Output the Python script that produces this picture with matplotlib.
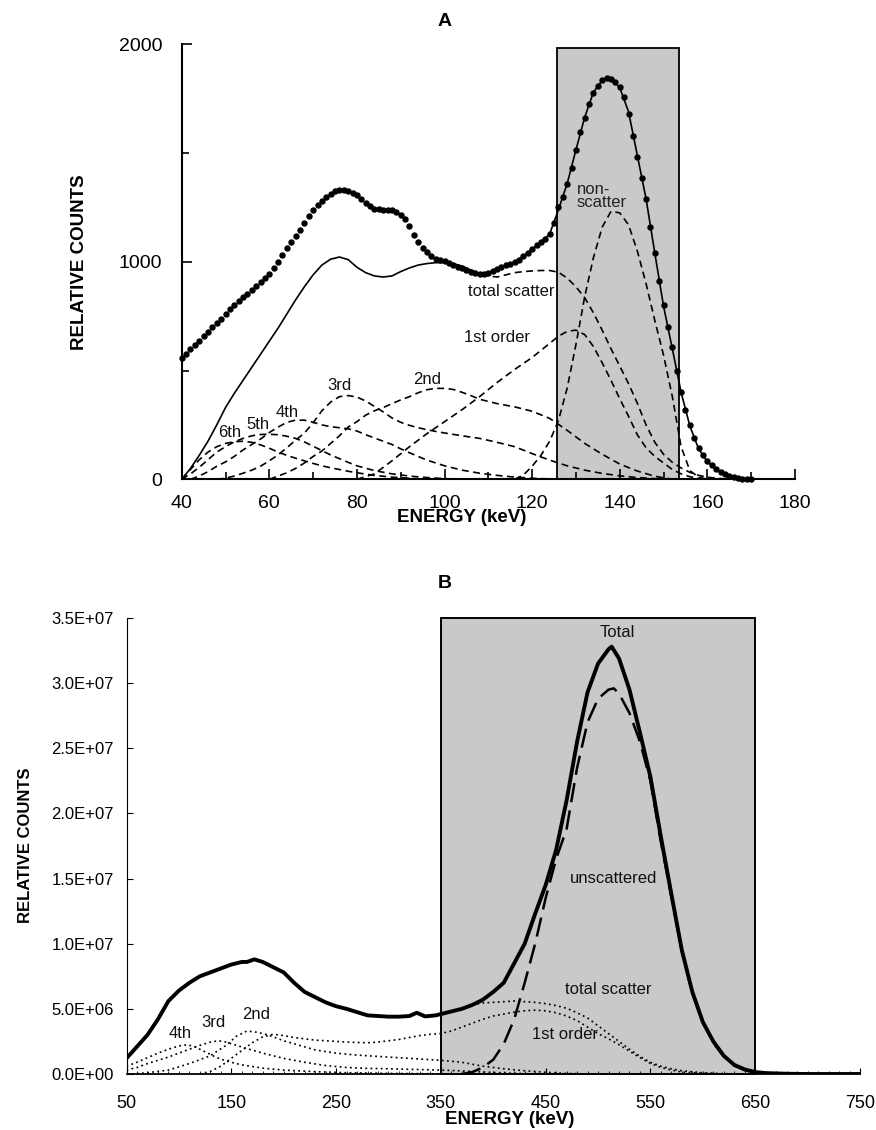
import matplotlib
matplotlib.use("Agg")
import matplotlib.pyplot as plt
from matplotlib.patches import Rectangle
from matplotlib.ticker import MultipleLocator, FuncFormatter

plt.rcParams["font.family"] = ["Liberation Sans", "DejaVu Sans"]
plt.rcParams["lines.scale_dashes"] = False

W, H = 876, 1130

# ---------------- panel A data (energy keV, relative counts) ----------------
a_meas_energy = list(range(40, 171))
a_meas_counts = [
    558, 578, 598, 618, 638, 658, 678, 698, 718, 738,
    760, 781, 800, 818, 836, 853, 870, 888, 906, 925,
    945, 970, 1000, 1030, 1062, 1093, 1120, 1146, 1178, 1210,
    1238, 1260, 1280, 1298, 1313, 1325, 1330, 1330, 1325, 1316,
    1305, 1290, 1272, 1255, 1245, 1241, 1240, 1240, 1238, 1230,
    1215, 1195, 1165, 1125, 1090, 1065, 1045, 1025, 1013, 1007,
    1002, 995, 987, 978, 970, 962, 955, 949, 946, 946,
    950, 958, 966, 975, 983, 992, 1000, 1010, 1025, 1042,
    1058, 1075, 1090, 1105, 1128, 1180, 1250, 1300, 1360, 1430,
    1515, 1595, 1660, 1725, 1775, 1810, 1835, 1844, 1842, 1828,
    1805, 1760, 1680, 1580, 1480, 1385, 1290, 1160, 1040, 910,
    800, 700, 610, 500, 400, 320, 250, 190, 145, 110,
    85, 65, 48, 35, 25, 17, 10, 5, 2, 0,
    0,
]

a_fit_energy = [40, 42, 44, 46, 48, 50, 52, 54, 56, 58, 60, 62, 64, 66, 68, 70,
                72, 74, 76, 78, 80, 82, 84, 86, 88, 90, 92, 94, 96, 98, 100,
                102, 104, 106, 108, 110, 112, 114, 116, 118, 120, 122, 124,
                126, 128, 130, 132, 134, 136, 138, 140, 142, 144, 146, 148,
                150, 152, 154, 156, 158, 160, 162, 164, 166, 168, 170]
a_fit_counts = [0, 50, 110, 175, 250, 330, 395, 455, 515, 575, 635, 695, 760,
                825, 885, 940, 985, 1012, 1022, 1010, 975, 950, 935, 930, 935,
                955, 972, 985, 992, 996, 996, 992, 980, 962, 945, 950, 966,
                983, 1000, 1025, 1058, 1090, 1128, 1240, 1360, 1515, 1665,
                1780, 1835, 1845, 1800, 1690, 1490, 1290, 1040, 795, 600, 400,
                245, 140, 80, 45, 25, 12, 5, 0]

a_scat_energy = [106, 108, 110, 112, 114, 116, 118, 120, 122, 124, 126, 128,
                 130, 132, 134, 136, 138, 140, 142, 144, 146, 148, 150, 152,
                 154, 156, 158, 160, 162, 164, 166]
a_scat_counts = [962, 945, 935, 930, 940, 950, 955, 958, 960, 960, 952, 925,
                 885, 835, 765, 685, 600, 520, 440, 350, 250, 170, 115, 78,
                 52, 32, 18, 10, 5, 2, 0]

a_nonscat_energy = [116, 118, 120, 122, 124, 126, 128, 130, 132, 134, 136, 138,
                    140, 142, 144, 146, 148, 150, 152, 154, 156, 158, 160]
a_nonscat_counts = [0, 20, 60, 110, 175, 270, 420, 620, 840, 1020, 1160, 1232,
                    1225, 1170, 1050, 900, 730, 570, 380, 150, 40, 10, 0]

a_1st_energy = [80, 84, 88, 92, 96, 100, 104, 108, 112, 116, 120, 124, 126,
                128, 130, 132, 134, 136, 138, 140, 142, 144, 146, 148, 150,
                152, 154, 156, 158, 160]
a_1st_counts = [0, 25, 85, 150, 210, 265, 320, 380, 445, 505, 560, 625, 658,
                680, 686, 665, 610, 535, 455, 370, 290, 205, 145, 105, 75, 45,
                25, 12, 5, 0]

a_2nd_energy = [60, 62, 64, 66, 68, 70, 72, 74, 76, 78, 80, 82, 84, 86, 88, 90,
                92, 94, 96, 98, 100, 102, 104, 106, 108, 112, 116, 120, 124,
                128, 132, 136, 140, 144, 148, 152]
a_2nd_counts = [0, 15, 30, 50, 75, 105, 130, 165, 200, 240, 265, 295, 315, 330,
                348, 365, 380, 398, 412, 418, 418, 413, 400, 385, 368, 348, 333,
                313, 280, 225, 165, 115, 70, 38, 14, 0]

a_3rd_energy = [48, 50, 52, 54, 56, 58, 60, 62, 64, 66, 68, 70, 72, 74, 76, 78,
                80, 82, 84, 86, 88, 90, 92, 94, 96, 98, 100, 104, 108, 112, 116,
                120, 124, 128, 132, 136, 140, 144, 148, 152]
a_3rd_counts = [0, 5, 15, 28, 42, 60, 85, 112, 145, 180, 212, 260, 315, 355,
                380, 385, 378, 360, 335, 310, 282, 262, 248, 237, 228, 220, 213,
                200, 188, 170, 150, 118, 88, 62, 42, 27, 16, 8, 3, 0]

a_4th_energy = [42, 44, 46, 48, 50, 52, 54, 56, 58, 60, 62, 64, 66, 68, 70, 72,
                74, 76, 78, 80, 82, 84, 86, 88, 90, 92, 94, 96, 98, 100, 104,
                108, 112, 116, 120, 126]
a_4th_counts = [0, 15, 35, 60, 80, 105, 135, 160, 185, 215, 240, 262, 272, 272,
                262, 250, 242, 237, 232, 222, 205, 190, 175, 160, 140, 122, 105,
                88, 75, 62, 42, 28, 18, 10, 5, 0]

a_5th_energy = [40, 42, 44, 46, 48, 50, 52, 54, 56, 58, 60, 62, 64, 66, 68, 70,
                72, 74, 76, 78, 80, 84, 88, 92, 96, 100, 104]
a_5th_counts = [0, 25, 55, 90, 125, 150, 172, 188, 200, 206, 207, 205, 198, 188,
                172, 152, 132, 112, 95, 78, 62, 40, 25, 15, 8, 3, 0]

a_6th_energy = [40, 42, 44, 46, 48, 50, 52, 54, 56, 58, 60, 62, 64, 66, 68, 70,
                72, 74, 76, 78, 80, 84, 88, 92, 96]
a_6th_counts = [0, 45, 90, 125, 150, 165, 173, 175, 170, 158, 143, 125, 110, 97,
                85, 73, 62, 53, 45, 37, 30, 18, 10, 5, 0]

a_window = (125.7, 153.5)

# ---------------- panel B data (energy keV, relative counts) ----------------
b_total_energy = [50, 60, 70, 80, 90, 100, 110, 120, 130, 140, 150, 160, 165,
                  172, 180, 190, 200, 210, 220, 230, 240, 250, 260, 270, 280,
                  290, 300, 310, 320, 327, 335, 345, 350, 360, 370, 380, 390,
                  400, 410, 420, 430, 440, 450, 460, 470, 480, 490, 500, 510,
                  513, 520, 530, 540, 550, 560, 570, 580, 590, 600, 610, 620,
                  630, 640, 650, 660, 680, 700, 750]
b_total_counts = [1.2e6, 2.1e6, 3.0e6, 4.2e6, 5.6e6, 6.4e6, 7.0e6, 7.5e6, 7.8e6,
                  8.1e6, 8.4e6, 8.6e6, 8.6e6, 8.8e6, 8.6e6, 8.2e6, 7.8e6, 7.0e6,
                  6.3e6, 5.9e6, 5.5e6, 5.2e6, 5.0e6, 4.75e6, 4.5e6, 4.45e6,
                  4.4e6, 4.4e6, 4.45e6, 4.7e6, 4.42e6, 4.5e6, 4.6e6, 4.8e6,
                  5.0e6, 5.3e6, 5.7e6, 6.3e6, 7.0e6, 8.5e6, 1.0e7, 1.23e7,
                  1.45e7, 1.72e7, 2.1e7, 2.55e7, 2.93e7, 3.15e7, 3.26e7,
                  3.28e7, 3.19e7, 2.95e7, 2.62e7, 2.28e7, 1.82e7, 1.38e7,
                  9.5e6, 6.3e6, 4.0e6, 2.5e6, 1.4e6, 7e5, 3.5e5, 1.5e5, 7e4,
                  2e4, 0, 0]

b_unscat_energy = [370, 380, 390, 400, 410, 420, 430, 440, 450, 460, 470, 480,
                   490, 500, 510, 515, 520, 530, 540, 550, 560, 570, 580, 590,
                   600, 610, 620, 630, 640, 650, 660]
b_unscat_counts = [0, 1.5e5, 5e5, 1.1e6, 2.3e6, 4.2e6, 7.0e6, 1.0e7, 1.35e7,
                   1.65e7, 1.88e7, 2.35e7, 2.7e7, 2.88e7, 2.95e7, 2.96e7,
                   2.92e7, 2.77e7, 2.55e7, 2.25e7, 1.78e7, 1.36e7, 9.4e6,
                   6.2e6, 3.95e6, 2.4e6, 1.35e6, 6.5e5, 3e5, 1e5, 0]

b_scat_energy = [380, 390, 400, 410, 420, 430, 440, 450, 460, 470, 480, 490,
                 500, 510, 520, 530, 540, 550, 560, 570, 580, 600, 620, 640]
b_scat_counts = [5.3e6, 5.45e6, 5.5e6, 5.55e6, 5.6e6, 5.55e6, 5.5e6, 5.4e6,
                 5.25e6, 5.05e6, 4.7e6, 4.3e6, 3.7e6, 3.1e6, 2.5e6, 1.9e6,
                 1.35e6, 9e5, 6e5, 4e5, 2.5e5, 1e5, 3e4, 0]

b_1st_energy = [120, 130, 140, 150, 160, 170, 180, 190, 200, 210, 220, 230,
                240, 250, 260, 270, 280, 290, 300, 310, 320, 330, 340, 350,
                360, 370, 380, 390, 400, 410, 420, 430, 440, 450, 460, 470,
                480, 490, 500, 510, 520, 530, 540, 550, 560, 570, 580, 600, 620]
b_1st_counts = [0, 2e5, 6e5, 1.2e6, 1.8e6, 2.4e6, 2.85e6, 3.05e6, 2.95e6,
                2.8e6, 2.7e6, 2.6e6, 2.55e6, 2.5e6, 2.45e6, 2.42e6, 2.4e6,
                2.45e6, 2.55e6, 2.65e6, 2.8e6, 2.95e6, 3.05e6, 3.1e6, 3.3e6,
                3.6e6, 3.9e6, 4.2e6, 4.45e6, 4.6e6, 4.75e6, 4.85e6, 4.9e6,
                4.85e6, 4.7e6, 4.45e6, 4.1e6, 3.6e6, 3.1e6, 2.7e6, 2.25e6,
                1.75e6, 1.25e6, 8e5, 5e5, 3e5, 1.5e5, 5e4, 0]

b_2nd_energy = [55, 70, 90, 110, 130, 145, 155, 165, 175, 185, 200, 215, 230,
                250, 270, 290, 310, 330, 350, 370, 390, 410, 430, 450, 470, 490]
b_2nd_counts = [0, 1e5, 3e5, 8e5, 1.4e6, 2.2e6, 2.9e6, 3.3e6, 3.2e6, 3.0e6,
                2.55e6, 2.2e6, 1.85e6, 1.6e6, 1.45e6, 1.35e6, 1.25e6, 1.15e6,
                1.05e6, 9e5, 6e5, 4e5, 2.5e5, 1.3e5, 5e4, 0]

b_3rd_energy = [50, 60, 70, 80, 90, 100, 110, 120, 130, 138, 145, 155, 165,
                180, 200, 220, 240, 260, 280, 300, 320, 340, 360, 380, 400,
                420, 440]
b_3rd_counts = [3e5, 5e5, 8e5, 1.05e6, 1.3e6, 1.6e6, 1.9e6, 2.2e6, 2.45e6,
                2.55e6, 2.45e6, 2.2e6, 1.95e6, 1.6e6, 1.2e6, 9e5, 6.5e5, 5e5,
                4.3e5, 4e5, 3.6e5, 3.2e5, 2.7e5, 2e5, 1.2e5, 5e4, 0]

b_4th_energy = [50, 60, 70, 80, 90, 100, 108, 115, 125, 135, 145, 160, 180,
                200, 230, 260, 300, 340, 380]
b_4th_counts = [6e5, 9e5, 1.25e6, 1.6e6, 1.9e6, 2.15e6, 2.25e6, 2.1e6, 1.7e6,
                1.3e6, 1.0e6, 7e5, 4.5e5, 3e5, 1.8e5, 1e5, 5e4, 2e4, 0]

b_window = (350, 650)
b_xticks = [50, 150, 250, 350, 450, 550, 650, 750]


def fx(px):
    return px / W


def fy(py):
    return 1 - py / H


fig = plt.figure(figsize=(W / 100, H / 100), dpi=100)

# ================================ panel A ================================
axA = fig.add_axes([fx(181.7), fy(479.3), 613.3 / W, 435 / H])
axA.add_patch(Rectangle((a_window[0], 0), a_window[1] - a_window[0], 1984,
                        facecolor="#c9c9c9", edgecolor="black", lw=1.3, zorder=1))

dash_a = (0, (5, 3.2))
for e, c in [(a_6th_energy, a_6th_counts), (a_5th_energy, a_5th_counts),
             (a_4th_energy, a_4th_counts), (a_3rd_energy, a_3rd_counts),
             (a_2nd_energy, a_2nd_counts), (a_1st_energy, a_1st_counts),
             (a_scat_energy, a_scat_counts), (a_nonscat_energy, a_nonscat_counts)]:
    axA.plot(e, c, color="black", lw=1.2, linestyle=dash_a, zorder=3)

axA.plot(a_fit_energy, a_fit_counts, color="black", lw=1.2, zorder=4)
axA.plot(a_meas_energy, a_meas_counts, linestyle="none", marker="o",
         markersize=3.6, color="black", zorder=5, clip_on=False)

axA.set_xlim(40, 180)
axA.set_ylim(0, 2000)
axA.xaxis.set_major_locator(MultipleLocator(20))
axA.xaxis.set_minor_locator(MultipleLocator(10))
axA.set_yticks([0, 1000, 2000])
axA.yaxis.set_minor_locator(MultipleLocator(500))
for s in ("top", "right"):
    axA.spines[s].set_visible(False)
for s in ("left", "bottom"):
    axA.spines[s].set_linewidth(1.5)
axA.tick_params(axis="both", which="major", direction="in", length=7, width=1.2,
                labelsize=14)
axA.tick_params(axis="both", which="minor", direction="in", length=5, width=1.2)
axA.tick_params(axis="x", which="major", pad=11)
axA.tick_params(axis="y", which="major", pad=14)

lbl = dict(fontsize=12, ha="center", va="center", color="#111111", zorder=6)
axA.text(51, 216, "6th", **lbl)
axA.text(57.3, 250, "5th", **lbl)
axA.text(64, 308, "4th", **lbl)
axA.text(75.9, 430, "3rd", **lbl)
axA.text(96, 460, "2nd", **lbl)
axA.text(111.9, 651, "1st order", **lbl)
axA.text(115.3, 863, "total scatter", **lbl)
axA.text(130.2, 1302, "non-\nscatter", fontsize=12, ha="left", va="center",
         multialignment="left", color="#222222", linespacing=0.8, zorder=6)

fig.text(fx(445), fy(22), "A", fontsize=14, fontweight="bold", ha="center", va="center")
fig.text(fx(80), fy(262), "RELATIVE COUNTS", fontsize=13.5, fontweight="bold",
         rotation=90, ha="center", va="center")
fig.text(fx(462), fy(518), "ENERGY (keV)", fontsize=13.5, fontweight="bold",
         ha="center", va="center")

# ================================ panel B ================================
axB = fig.add_axes([fx(126.5), fy(1074), 733.5 / W, 456 / H])
axB.add_patch(Rectangle((b_window[0], 0), b_window[1] - b_window[0], 3.5e7,
                        facecolor="#c9c9c9", edgecolor="black", lw=1.4, zorder=1,
                        clip_on=False))

dot_b = (0, (1.3, 2.4))
for e, c in [(b_4th_energy, b_4th_counts), (b_3rd_energy, b_3rd_counts),
             (b_2nd_energy, b_2nd_counts), (b_1st_energy, b_1st_counts),
             (b_scat_energy, b_scat_counts)]:
    axB.plot(e, c, color="black", lw=1.2, linestyle=dot_b, zorder=3)

axB.plot(b_unscat_energy, b_unscat_counts, color="black", lw=1.8,
         linestyle=(0, (14, 6)), zorder=4)
axB.plot(b_total_energy, b_total_counts, color="black", lw=2.8, zorder=5,
         solid_joinstyle="round")

axB.set_xlim(50, 750)
axB.set_ylim(0, 3.5e7)
axB.set_xticks(b_xticks)
axB.xaxis.set_minor_locator(MultipleLocator(10))
axB.yaxis.set_major_locator(MultipleLocator(5e6))
axB.yaxis.set_major_formatter(FuncFormatter(lambda v, p: f"{v:.1E}"))
for s in ("top", "right"):
    axB.spines[s].set_visible(False)
axB.spines["left"].set_linewidth(0.8)
axB.spines["bottom"].set_linewidth(1.3)
axB.tick_params(axis="both", which="major", direction="in", length=4, width=0.8,
                labelsize=12)
axB.tick_params(axis="x", which="major", labelsize=13, pad=15)
axB.tick_params(axis="x", which="minor", direction="in", length=2, width=0.6)
axB.tick_params(axis="y", which="major", pad=9)

axB.text(101, 3.1e6, "4th", **lbl)
axB.text(133, 3.95e6, "3rd", **lbl)
axB.text(174, 4.55e6, "2nd", **lbl)
axB.text(518, 3.39e7, "Total", **lbl)
axB.text(515, 1.5e7, "unscattered", **lbl)
axB.text(510, 6.5e6, "total scatter", **lbl)
axB.text(468, 3.0e6, "1st order", **lbl)

fig.text(fx(445), fy(583), "B", fontsize=14, fontweight="bold", ha="center", va="center")
fig.text(fx(26), fy(845), "RELATIVE COUNTS", fontsize=12, fontweight="bold",
         rotation=90, ha="center", va="center")
fig.text(fx(510), fy(1120), "ENERGY (keV)", fontsize=13.5, fontweight="bold",
         ha="center", va="center")

fig.savefig("out.png", dpi=100)
